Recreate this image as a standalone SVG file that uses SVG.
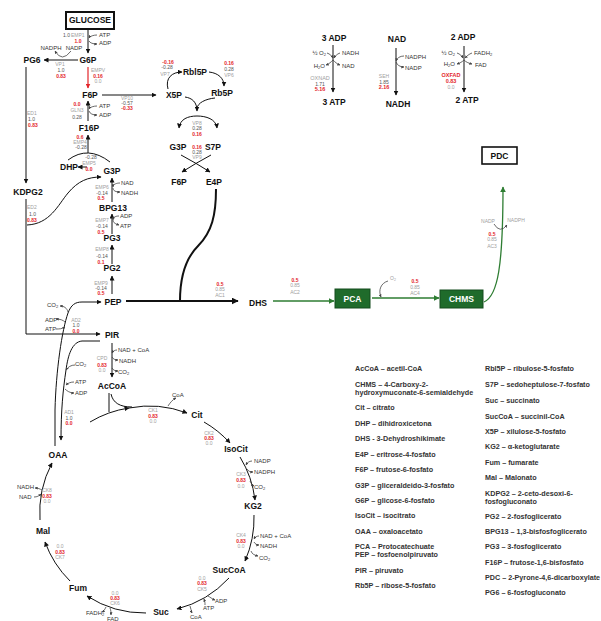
<svg xmlns="http://www.w3.org/2000/svg" width="601" height="621" viewBox="0 0 601 621">
<defs>
<marker id="ah" viewBox="0 0 10 10" refX="9" refY="5" markerWidth="5" markerHeight="5" markerUnits="userSpaceOnUse" orient="auto"><path d="M0,0 L10,5 L0,10 z" fill="#111"/></marker>
<marker id="ahL" viewBox="0 0 10 10" refX="9" refY="5" markerWidth="7" markerHeight="7" markerUnits="userSpaceOnUse" orient="auto"><path d="M0,0 L10,5 L0,10 z" fill="#111"/></marker>
<marker id="ahR" viewBox="0 0 10 10" refX="9" refY="5" markerWidth="5" markerHeight="5" markerUnits="userSpaceOnUse" orient="auto"><path d="M0,0 L10,5 L0,10 z" fill="#e3262b"/></marker>
<marker id="ahG" viewBox="0 0 10 10" refX="9" refY="5" markerWidth="6" markerHeight="6" markerUnits="userSpaceOnUse" orient="auto"><path d="M0,0 L10,5 L0,10 z" fill="#2e7d32"/></marker>
<marker id="ahs" viewBox="0 0 10 10" refX="9" refY="5" markerWidth="3" markerHeight="3" markerUnits="userSpaceOnUse" orient="auto"><path d="M0,0 L10,5 L0,10 z" fill="#444"/></marker>
</defs>
<style>
text{font-family:"Liberation Sans",Arial,sans-serif}
.n{font-size:8.5px;font-weight:bold;fill:#111;text-anchor:middle}
.c{font-size:6px;fill:#333}
.e{font-size:5px;fill:#a0a0a0}
.v{font-size:5px;fill:#555}
.r{font-size:5px;fill:#e3262b;font-weight:bold}
.m{text-anchor:middle}
.en{text-anchor:end}
.big{font-size:5.5px}
.lg{font-size:7.2px;font-weight:bold;fill:#333}
.ln{fill:none;stroke:#111;stroke-width:1}
.tk{fill:none;stroke:#111;stroke-width:2}
.hk{fill:none;stroke:#444;stroke-width:0.8}
.gr{fill:none;stroke:#2e7d32;stroke-width:1.3}
</style>
<rect width="601" height="621" fill="#fff"/>

<g id="connectors">
<!-- glycolysis -->
<path class="ln" d="M88 30 V53" marker-end="url(#ah)"/>
<path class="ln" d="M78 60 H44" marker-end="url(#ah)"/>
<path d="M88 67 V88" fill="none" stroke="#e3262b" stroke-width="1.2" marker-end="url(#ahR)"/>
<path class="ln" d="M102 95 H156" marker-end="url(#ah)"/>
<path class="ln" d="M88 121 V101" marker-end="url(#ah)"/>
<path class="ln" d="M88 153 V135" marker-end="url(#ah)"/>
<path class="ln" d="M68 160 Q88 145 110 162"/>
<path class="ln" d="M87 167 H78" marker-end="url(#ah)"/>
<path class="ln" d="M112 202 V178" marker-end="url(#ah)"/>
<path class="ln" d="M112 234 V214" marker-end="url(#ah)"/>
<path class="ln" d="M112 264 V245" marker-end="url(#ah)"/>
<path class="ln" d="M112 294 V276" marker-end="url(#ah)"/>
<path class="tk" d="M126 301 H238" marker-end="url(#ahL)"/>
<path class="tk" d="M216 189 C216 215 212 232 198 246 C186 258 180 275 180 301"/>
<!-- ED pathway -->
<path class="ln" d="M26 67 V183" marker-end="url(#ah)"/>
<path class="ln" d="M26 199 V334 H100" marker-end="url(#ah)"/>
<path class="ln" d="M27 225 C50 224 58 205 68 193 C78 181 88 177 101 177" marker-end="url(#ah)"/>
<!-- PEP / PIR / OAA -->
<path class="ln" d="M55 446 L55 410 C56 370 62 330 68 313 C71 305 75 302 82 302 L101 302" marker-end="url(#ah)"/>
<path class="ln" d="M100 341 L82 341 C72 342 68 355 66 370 C63 390 61 410 61 440" marker-end="url(#ah)"/>
<path class="ln" d="M112 343 V377" marker-end="url(#ah)"/>
<!-- TCA -->
<path class="ln" d="M109 393 V412"/>
<path class="ln" d="M111 394 C113 403 120 407 132 407"/>
<path class="ln" d="M90 422 A106 106 0 0 1 129 408" marker-end="url(#ah)"/>
<path class="ln" d="M129 408 A106 106 0 0 1 187 413" marker-end="url(#ah)"/>
<path class="ln" d="M204 422 A106 106 0 0 1 230 443" marker-end="url(#ah)"/>
<path class="ln" d="M240 457 A106 106 0 0 1 255 500" marker-end="url(#ah)"/>
<path class="ln" d="M254 515 A106 106 0 0 1 245 561" marker-end="url(#ah)"/>
<path class="ln" d="M229 578 A106 106 0 0 1 177 609" marker-end="url(#ah)"/>
<path class="ln" d="M146 613 A106 106 0 0 1 87 596" marker-end="url(#ah)"/>
<path class="ln" d="M70 581 A106 106 0 0 1 45 542" marker-end="url(#ah)"/>
<path class="ln" d="M40 520 A106 106 0 0 1 52 463" marker-end="url(#ah)"/>
<!-- PPP -->
<path class="ln" d="M168 89 C165 78 172 72 182 72" marker-end="url(#ah)"/>
<path class="ln" d="M209 72 C218 73 224 78 224 86" marker-end="url(#ah)"/>
<path class="ln" d="M185 97 C192 98 197 102 197 111" marker-end="url(#ah)"/>
<path class="ln" d="M215 98 C205 99 198 103 197 108"/>
<path class="ln" d="M197 116 C188 116 180 119 179 128" marker-end="url(#ah)"/>
<path class="ln" d="M197 116 C206 116 216 119 217 128" marker-end="url(#ah)"/>
<path class="ln" d="M181 155 Q196 163 210 172" marker-end="url(#ah)"/>
<path class="ln" d="M211 155 Q196 163 182 172" marker-end="url(#ah)"/>
<!-- energy -->
<path class="ln" d="M333 45 V92" marker-end="url(#ah)"/>
<path class="ln" d="M396 48 V95" marker-end="url(#ah)"/>
<path class="ln" d="M464 46 V92" marker-end="url(#ah)"/>
<!-- green pathway -->
<path class="gr" d="M273 301 H334" marker-end="url(#ahG)"/>
<path class="gr" d="M372 298 H439" marker-end="url(#ahG)"/>
<path class="gr" d="M484 302 C498 296 503 265 503 187" marker-end="url(#ahG)"/>
<path class="hk" d="M388 281 C381 283 378 290 381 297" marker-end="url(#ahs)"/>
<path class="hk" d="M494 224 Q500 234 507 225" marker-end="url(#ahs)"/>
<!-- cofactor hooks -->
<path class="hk" d="M97 35 c-3 0 -7 1 -8 3" marker-end="url(#ahs)"/>
<path class="hk" d="M89 41 c1 2 4 3 8 3" marker-end="url(#ahs)"/>
<path class="hk" d="M71 51 Q62 63 55 51" marker-end="url(#ahs)"/>
<path class="hk" d="M97 106 c-3 0 -7 1 -8 3" marker-end="url(#ahs)"/>
<path class="hk" d="M89 111 c1 3 4 4 8 4" marker-end="url(#ahs)"/>
<path class="hk" d="M120 183 c-3 0 -7 1 -7 4" marker-end="url(#ahs)"/>
<path class="hk" d="M113 188 c0 3 3 4 7 4" marker-end="url(#ahs)"/>
<path class="hk" d="M119 216 c-3 0 -6 1 -6 4" marker-end="url(#ahs)"/>
<path class="hk" d="M113 220 c0 3 3 4 6 5" marker-end="url(#ahs)"/>
<path class="hk" d="M68 312 c-1 -4 -4 -6 -8 -6" marker-end="url(#ahs)"/>
<path class="hk" d="M65 322 c-2 -2 -5 -3 -9 -3" marker-end="url(#ahs)"/>
<path class="hk" d="M56 329 c3 0 6 0 9 -2" marker-end="url(#ahs)"/>
<path class="hk" d="M75 365 c-4 0 -7 2 -9 5" marker-end="url(#ahs)"/>
<path class="hk" d="M74 382 c-3 0 -6 1 -8 3" marker-end="url(#ahs)"/>
<path class="hk" d="M65 389 c2 2 5 4 9 4" marker-end="url(#ahs)"/>
<path class="hk" d="M117 350 c-2 0 -4 1 -5 3" marker-end="url(#ahs)"/>
<path class="hk" d="M112 357 c1 2 3 3 6 3" marker-end="url(#ahs)"/>
<path class="hk" d="M112 368 c1 2 3 3 6 3" marker-end="url(#ahs)"/>
<path class="hk" d="M168 406 c2 -3 4 -6 8 -8" marker-end="url(#ahs)"/>
<path class="hk" d="M252 461 c-3 0 -5 2 -6 4" marker-end="url(#ahs)"/>
<path class="hk" d="M247 469 c1 2 3 3 6 3" marker-end="url(#ahs)"/>
<path class="hk" d="M250 481 c1 2 2 4 4 5" marker-end="url(#ahs)"/>
<path class="hk" d="M259 536 c-2 0 -4 1 -5 3" marker-end="url(#ahs)"/>
<path class="hk" d="M254 542 c1 2 3 3 5 3" marker-end="url(#ahs)"/>
<path class="hk" d="M251 551 c1 3 3 4 7 5" marker-end="url(#ahs)"/>
<path class="hk" d="M208 596 c2 1 4 3 7 4" marker-end="url(#ahs)"/>
<path class="hk" d="M205 605 c0 -2 0 -3 -1 -6" marker-end="url(#ahs)"/>
<path class="hk" d="M190 606 c1 2 1 5 2 7" marker-end="url(#ahs)"/>
<path class="hk" d="M106 607 c-1 2 -2 4 -4 5" marker-end="url(#ahs)"/>
<path class="hk" d="M110 608 c1 2 1 5 1 7" marker-end="url(#ahs)"/>
<path class="hk" d="M42 490 c-2 -1 -4 -2 -7 -2" marker-end="url(#ahs)"/>
<path class="hk" d="M34 497 c3 0 5 -1 7 -3" marker-end="url(#ahs)"/>
<path class="hk" d="M327 53 c3 1 5 3 6 5" marker-end="url(#ahs)"/>
<path class="hk" d="M340 53 c-3 1 -5 3 -6 5" marker-end="url(#ahs)"/>
<path class="hk" d="M333 60 c-2 2 -4 4 -7 5" marker-end="url(#ahs)"/>
<path class="hk" d="M333 60 c2 2 4 4 7 5" marker-end="url(#ahs)"/>
<path class="hk" d="M404 56 c-4 0 -7 2 -8 5" marker-end="url(#ahs)"/>
<path class="hk" d="M396 62 c1 3 4 5 8 5" marker-end="url(#ahs)"/>
<path class="hk" d="M457 53 c3 1 5 3 6 5" marker-end="url(#ahs)"/>
<path class="hk" d="M472 53 c-3 1 -5 3 -7 5" marker-end="url(#ahs)"/>
<path class="hk" d="M464 60 c-2 2 -4 3 -7 4" marker-end="url(#ahs)"/>
<path class="hk" d="M464 60 c2 2 4 3 8 4" marker-end="url(#ahs)"/>
</g>

<g id="reaction-labels">
<text class="v" x="63" y="37" fill="#999">1.0</text><text class="e" x="71" y="37">EMP1</text><text class="r m" x="78" y="43">1.0</text>
<text class="c" x="99" y="37">ATP</text><text class="c" x="99" y="45">ADP</text>
<text class="c m" x="51" y="50">NADPH</text><text class="c m" x="74" y="50">NADP</text>
<text class="e m" x="60" y="66">VP1</text><text class="v m" x="61" y="72">1.0</text><text class="r m" x="61" y="78">0.83</text>
<text class="e m" x="98" y="72">EMPV</text><text class="r m" x="98" y="78">0.16</text><text class="e m" x="98" y="83">0.0</text>
<text class="e m" x="127" y="100">VP10</text><text class="v m" x="127" y="105">-0.57</text><text class="r m" x="127" y="110">-0.33</text>
<text class="r m" x="77" y="106">0.0</text><text class="e m" x="77" y="112">GLN3</text><text class="v m" x="77" y="119">0.28</text>
<text class="c" x="99" y="108">ATP</text><text class="c" x="99" y="117">ADP</text>
<text class="r m" x="80" y="139">0.6</text><text class="e m" x="80" y="144">EMP4</text><text class="v m" x="81" y="149">-0.28</text>
<text class="v m" x="91" y="159">-0.28</text><text class="e m" x="89" y="165">EMP5</text><text class="r m" x="89" y="171">0.0</text>
<text class="e m" x="102" y="189">EMP6</text><text class="v m" x="102" y="195">-0.14</text><text class="r m" x="101" y="200">0.5</text>
<text class="c" x="121" y="185">NAD</text><text class="c" x="121" y="195">NADH</text>
<text class="e m" x="102" y="222">EMP7</text><text class="v m" x="102" y="228">-0.14</text><text class="r m" x="101" y="234">0.5</text>
<text class="c" x="120" y="218">ADP</text><text class="c" x="120" y="228">ATP</text>
<text class="e m" x="102" y="251">EMP8</text><text class="v m" x="102" y="258">-0.14</text><text class="r m" x="101" y="264">0.1</text>
<text class="e m" x="101" y="285">EMP9</text><text class="v m" x="101" y="290">-0.14</text><text class="r m" x="101" y="295">0.5</text>
<text class="e" x="27" y="115">ED1</text><text class="v" x="28" y="121">1.0</text><text class="r" x="28" y="127">0.83</text>
<text class="e" x="27" y="209">ED2</text><text class="v" x="29" y="216">1.0</text><text class="r" x="27" y="222">0.83</text>
<text class="c" x="47" y="307">CO<tspan font-size="4" dy="1">2</tspan></text>
<text class="c" x="45" y="322">ADP</text><text class="c" x="45" y="331">ATP</text>
<text class="e m" x="76" y="322">AD2</text><text class="v m" x="76" y="327">1.0</text><text class="r m" x="76" y="333">0.0</text>
<text class="c" x="75" y="366">CO<tspan font-size="4" dy="1">2</tspan></text>
<text class="c" x="75" y="384">ATP</text><text class="c" x="75" y="395">ADP</text>
<text class="e m" x="69" y="414">AD1</text><text class="v m" x="69" y="420">1.0</text><text class="r m" x="69" y="425">0.0</text>
<text class="c" x="118" y="352">NAD + CoA</text><text class="c" x="119" y="363">NADH</text>
<text class="c" x="118" y="374">CO<tspan font-size="4" dy="1">2</tspan></text>
<text class="e m" x="102" y="360">CPD</text><text class="r m" x="102" y="367">0.83</text><text class="e m" x="102" y="372">0.0</text>
<!-- TCA labels -->
<text class="c" x="172" y="397">CoA</text>
<text class="e m" x="153" y="412">CK1</text><text class="r m" x="153" y="418">0.83</text><text class="e m" x="153" y="423">0.0</text>
<text class="e m" x="209" y="435">CK2</text><text class="r m" x="209" y="440">0.83</text><text class="e m" x="209" y="445">0.0</text>
<text class="c" x="254" y="463">NADP</text><text class="c" x="254" y="474">NADPH</text>
<text class="c" x="254" y="489">CO<tspan font-size="4" dy="1">2</tspan></text>
<text class="e m" x="241" y="476">CK3</text><text class="r m" x="241" y="482">0.83</text><text class="e m" x="241" y="488">0.0</text>
<text class="c" x="260" y="538">NAD + CoA</text><text class="c" x="260" y="548">NADH</text>
<text class="c" x="259" y="560">CO<tspan font-size="4" dy="1">2</tspan></text>
<text class="e m" x="241" y="537">CK4</text><text class="r m" x="241" y="543">0.83</text><text class="e m" x="241" y="548">0.0</text>
<text class="e m" x="202" y="580">0.0</text><text class="r m" x="202" y="585">0.83</text><text class="e m" x="202" y="591">CK5</text>
<text class="c" x="215" y="603">ADP</text><text class="c" x="203" y="610">ATP</text><text class="c" x="190" y="619">CoA</text>
<text class="e m" x="115" y="595">0.0</text><text class="r m" x="115" y="600">0.83</text><text class="e m" x="115" y="605">CK6</text>
<text class="c" x="86" y="615">FADH<tspan font-size="4" dy="1">2</tspan></text><text class="c" x="107" y="621">FAD</text>
<text class="e m" x="60" y="548">0.0</text><text class="r m" x="60" y="554">0.83</text><text class="e m" x="60" y="559">CK7</text>
<text class="c" x="17" y="489">NADH</text><text class="c" x="19" y="499">NAD</text>
<text class="e m" x="47" y="492">CK8</text><text class="r m" x="47" y="498">0.83</text><text class="e m" x="47" y="503">0.0</text>
<!-- PPP labels -->
<text class="r m" x="168" y="64">-0.16</text><text class="v m" x="167" y="69">-0.28</text><text class="e m" x="165" y="76">VP7</text>
<text class="r m" x="229" y="65">0.16</text><text class="v m" x="229" y="71">0.28</text><text class="e m" x="229" y="77">VP6</text>
<text class="e m" x="197" y="125">VP8</text><text class="v m" x="197" y="130">0.28</text><text class="r m" x="197" y="136">0.16</text>
<text class="r m" x="197" y="149">0.16</text><text class="v m" x="197" y="154">0.28</text><text class="e m" x="197" y="159">VP9</text>
<!-- energy labels -->
<text class="c en" x="326" y="55">½ O<tspan font-size="4" dy="1">2</tspan></text><text class="c" x="342" y="55">NADH</text>
<text class="c en" x="325" y="68">H<tspan font-size="4" dy="1">2</tspan><tspan dy="-1">O</tspan></text><text class="c" x="342" y="68">NAD</text>
<text class="e m big" x="320" y="80">OXNAD</text><text class="v m" x="320" y="86">1.71</text><text class="r m big" x="320" y="91">5.16</text>
<text class="c" x="405" y="59">NADPH</text><text class="c" x="405" y="70">NADP</text>
<text class="e m" x="384" y="78">SEH</text><text class="v m" x="384" y="84">1.85</text><text class="r m big" x="384" y="89">2.16</text>
<text class="c en" x="455" y="55">½ O<tspan font-size="4" dy="1">2</tspan></text><text class="c" x="474" y="55">FADH<tspan font-size="4" dy="1">2</tspan></text>
<text class="c en" x="455" y="66">H<tspan font-size="4" dy="1">2</tspan><tspan dy="-1">O</tspan></text><text class="c" x="475" y="67">FAD</text>
<text class="r m big" x="451" y="77">OXFAD</text><text class="r m big" x="451" y="83">0.83</text><text class="e m" x="451" y="89">0.0</text>
<!-- green pathway labels -->
<text class="r m" x="220" y="286">0.5</text><text class="e m" x="220" y="291">0.85</text><text class="e m" x="220" y="297">AC1</text>
<text class="r m" x="295" y="282">0.5</text><text class="e m" x="295" y="287">0.85</text><text class="e m" x="295" y="294">AC2</text>
<text class="r m" x="415" y="283">0.5</text><text class="e m" x="415" y="289">0.85</text><text class="e m" x="415" y="295">AC4</text>
<text class="e" x="390" y="280">O<tspan font-size="3.5" dy="1">2</tspan></text>
<text class="r m" x="492" y="236">0.5</text><text class="e m" x="492" y="241">0.85</text><text class="e m" x="492" y="248">AC3</text>
<text class="e m" x="488" y="223">NADP</text><text class="e m" x="516" y="222">NADPH</text>
</g>

<g id="node-glucose"><rect x="66" y="12" width="48" height="17" fill="#fff" stroke="#111" stroke-width="2"/><text class="n" x="90" y="23" font-size="7">GLUCOSE</text></g>
<g id="node-g6p"><text class="n" x="88" y="63">G6P</text></g>
<g id="node-pg6"><text class="n" x="32" y="63">PG6</text></g>
<g id="node-f6p"><text class="n" x="90" y="98">F6P</text></g>
<g id="node-f16p"><text class="n" x="89" y="131">F16P</text></g>
<g id="node-dhp"><text class="n" x="69" y="170" font-size="7">DHP</text></g>
<g id="node-g3p"><text class="n" x="112" y="174">G3P</text></g>
<g id="node-bpg13"><text class="n" x="113" y="211">BPG13</text></g>
<g id="node-pg3"><text class="n" x="112" y="241">PG3</text></g>
<g id="node-pg2"><text class="n" x="112" y="271">PG2</text></g>
<g id="node-pep"><text class="n" x="113" y="305">PEP</text></g>
<g id="node-pir"><text class="n" x="112" y="338">PIR</text></g>
<g id="node-accoa"><text class="n" x="112" y="389">AcCoA</text></g>
<g id="node-kdpg2"><text class="n" x="28" y="195" font-size="9.5">KDPG2</text></g>
<g id="node-rbl5p"><text class="n" x="195" y="75">Rbl5P</text></g>
<g id="node-x5p"><text class="n" x="174" y="98">X5P</text></g>
<g id="node-rb5p"><text class="n" x="222" y="96">Rb5P</text></g>
<g id="node-g3p-ppp"><text class="n" x="178" y="150">G3P</text></g>
<g id="node-s7p"><text class="n" x="213" y="150">S7P</text></g>
<g id="node-f6p-ppp"><text class="n" x="179" y="185">F6P</text></g>
<g id="node-e4p"><text class="n" x="214" y="185">E4P</text></g>
<g id="node-dhs"><text class="n" x="258" y="306" font-size="11">DHS</text></g>
<g id="node-pca"><rect x="335" y="289" width="35" height="19" fill="#1f6b2b" stroke="#154d1e" stroke-width="1"/><text class="n" x="352.5" y="301.5" font-size="9" fill="#fff" style="fill:#fff">PCA</text></g>
<g id="node-chms"><rect x="440" y="290" width="43" height="18" fill="#1f6b2b" stroke="#154d1e" stroke-width="1"/><text class="n" x="461.5" y="302" style="fill:#fff">CHMS</text></g>
<g id="node-pdc"><rect x="482" y="147" width="35" height="17" fill="#fff" stroke="#111" stroke-width="1.6"/><text class="n" x="499.5" y="159" font-size="9">PDC</text></g>
<g id="node-cit"><text class="n" x="197" y="418">Cit</text></g>
<g id="node-isocit"><text class="n" x="236" y="452">IsoCit</text></g>
<g id="node-kg2"><text class="n" x="253" y="509">KG2</text></g>
<g id="node-succoa"><text class="n" x="229" y="573">SucCoA</text></g>
<g id="node-suc"><text class="n" x="161" y="615">Suc</text></g>
<g id="node-fum"><text class="n" x="78" y="591">Fum</text></g>
<g id="node-mal"><text class="n" x="43" y="534">Mal</text></g>
<g id="node-oaa"><text class="n" x="58" y="458">OAA</text></g>
<g id="node-3adp"><text class="n" x="334" y="41" font-size="8">3 ADP</text></g>
<g id="node-3atp"><text class="n" x="334" y="105" font-size="8">3 ATP</text></g>
<g id="node-nad"><text class="n" x="397" y="42" font-size="8">NAD</text></g>
<g id="node-nadh"><text class="n" x="398" y="107" font-size="8">NADH</text></g>
<g id="node-2adp"><text class="n" x="463" y="40" font-size="8">2 ADP</text></g>
<g id="node-2atp"><text class="n" x="467" y="103" font-size="8">2 ATP</text></g>

<g id="legend">
<text class="lg" x="355" y="371">AcCoA – acetil-CoA</text>
<text class="lg" x="355" y="387">CHMS – 4-Carboxy-2-</text>
<text class="lg" x="355" y="395">hydroxymuconate-6-semialdehyde</text>
<text class="lg" x="355" y="410">Cit – citrato</text>
<text class="lg" x="355" y="426">DHP – dihidroxicetona</text>
<text class="lg" x="355" y="441">DHS - 3-Dehydroshikimate</text>
<text class="lg" x="355" y="457">E4P – eritrose-4-fosfato</text>
<text class="lg" x="355" y="472">F6P – frutose-6-fosfato</text>
<text class="lg" x="355" y="488">G3P – gliceraldeido-3-fosfato</text>
<text class="lg" x="355" y="503">G6P – glicose-6-fosfato</text>
<text class="lg" x="355" y="518">IsoCit – isocitrato</text>
<text class="lg" x="355" y="534">OAA – oxaloacetato</text>
<text class="lg" x="355" y="549">PCA – Protocatechuate</text>
<text class="lg" x="355" y="557">PEP – fosfoenolpiruvato</text>
<text class="lg" x="355" y="573">PIR – piruvato</text>
<text class="lg" x="355" y="588">Rb5P – ribose-5-fosfato</text>
<text class="lg" x="485" y="371">Rbl5P – ribulose-5-fosfato</text>
<text class="lg" x="485" y="387">S7P – sedoheptulose-7-fosfato</text>
<text class="lg" x="485" y="403">Suc – succinato</text>
<text class="lg" x="485" y="419">SucCoA – succinil-CoA</text>
<text class="lg" x="485" y="434">X5P – xilulose-5-fosfato</text>
<text class="lg" x="485" y="449">KG2 – α-ketoglutarate</text>
<text class="lg" x="485" y="465">Fum – fumarate</text>
<text class="lg" x="485" y="480">Mal – Malonato</text>
<text class="lg" x="485" y="496">KDPG2 – 2-ceto-desoxi-6-</text>
<text class="lg" x="485" y="504">fosfogluconato</text>
<text class="lg" x="485" y="519">PG2 – 2-fosfoglicerato</text>
<text class="lg" x="485" y="534">BPG13 – 1,3-bisfosfoglicerato</text>
<text class="lg" x="485" y="549">PG3 – 3-fosfoglicerato</text>
<text class="lg" x="485" y="565">F16P – frutose-1,6-bisfosfato</text>
<text class="lg" x="485" y="580">PDC – 2-Pyrone-4,6-dicarboxylate</text>
<text class="lg" x="485" y="595">PG6 – 6-fosfogluconato</text>
</g>
</svg>
